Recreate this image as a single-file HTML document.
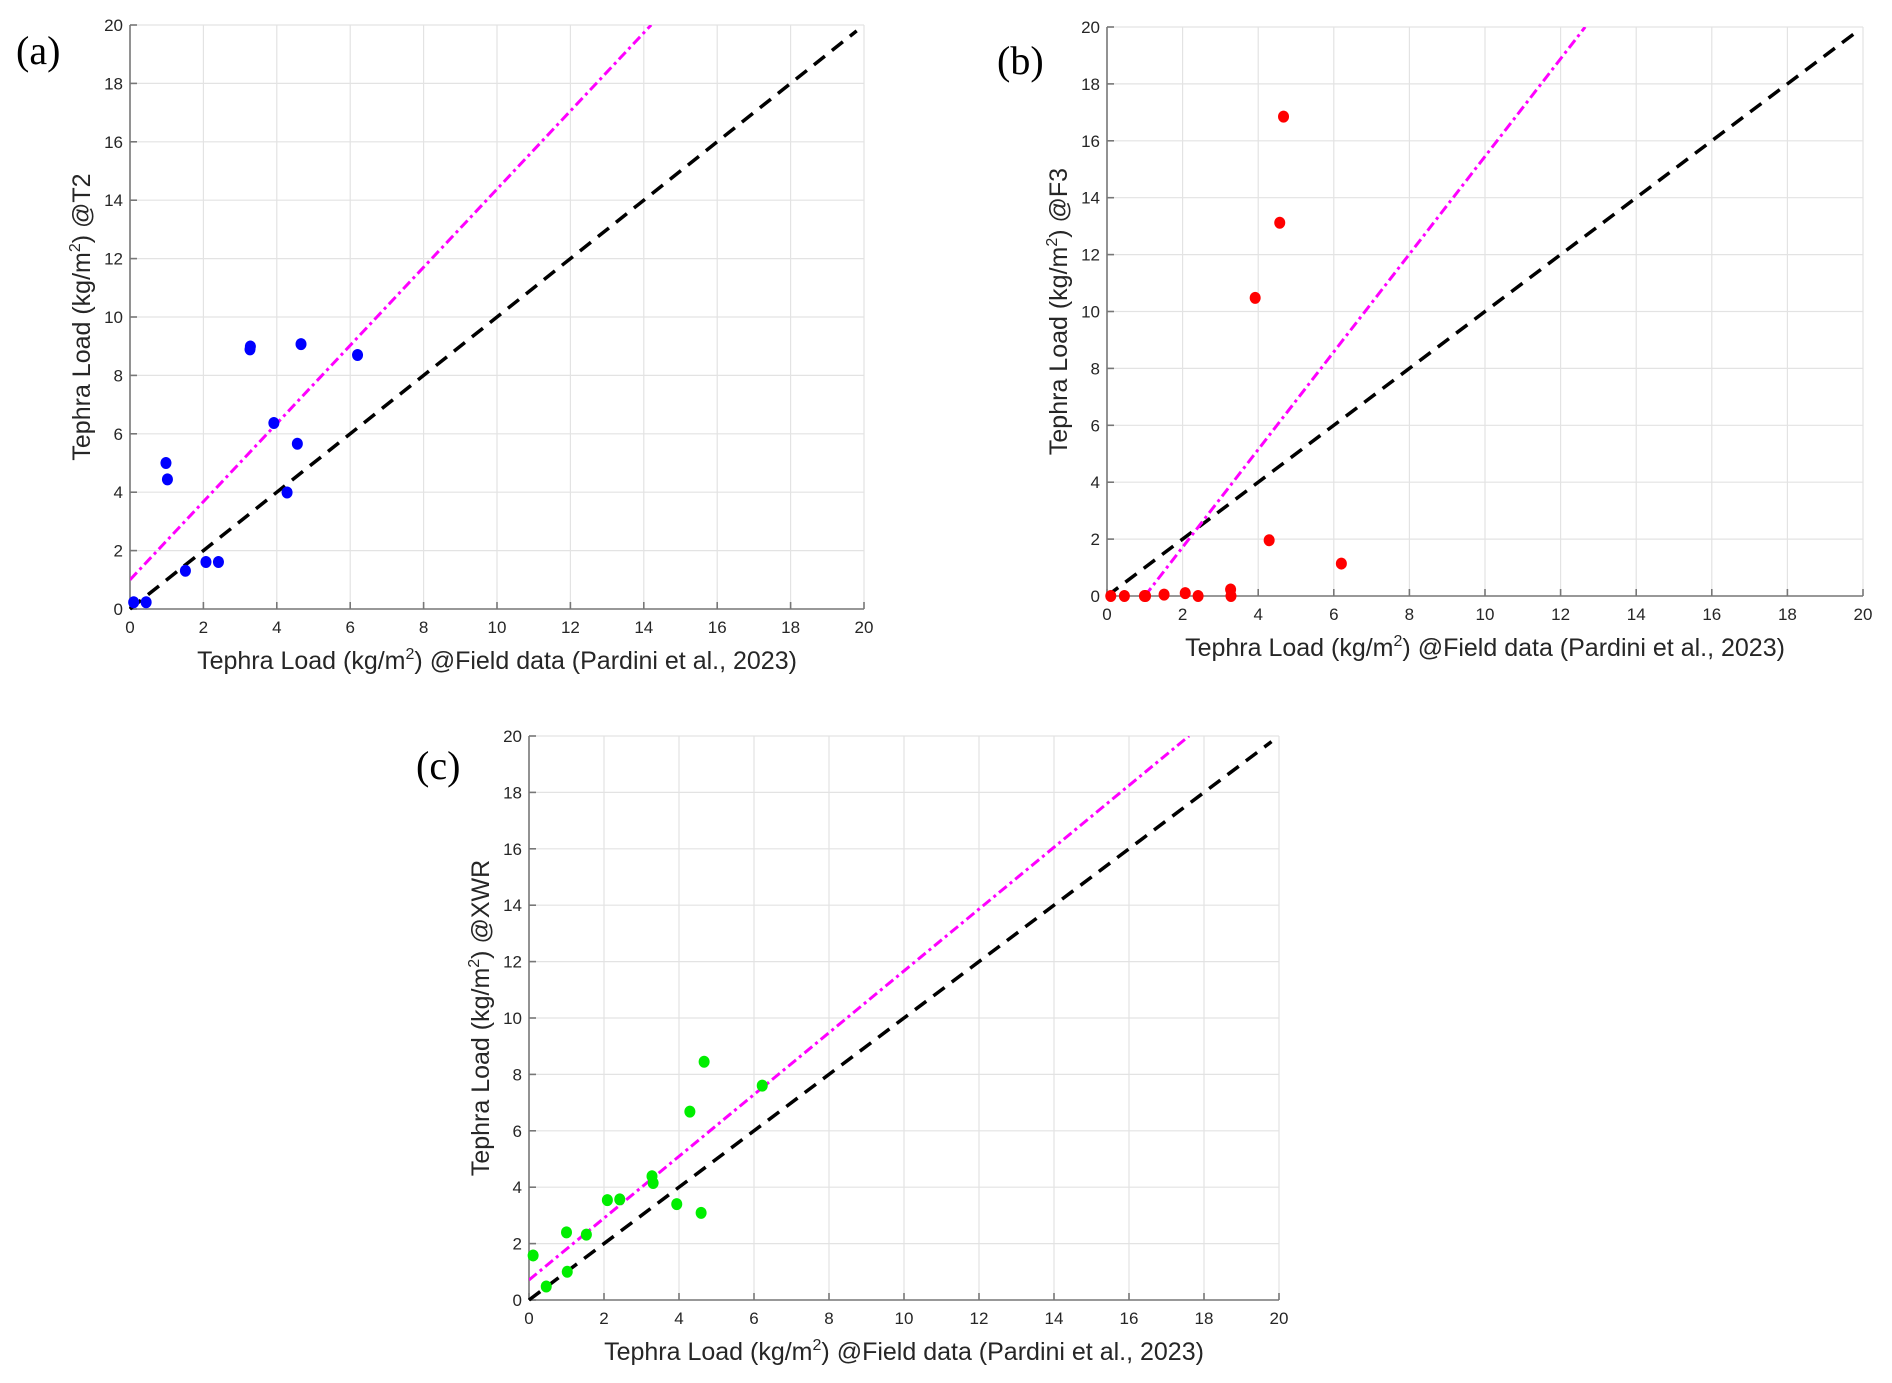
<!DOCTYPE html>
<html><head><meta charset="utf-8"><style>
html,body{margin:0;padding:0;background:#fff;}
svg{display:block;}
text{font-family:"Liberation Sans",sans-serif;fill:#262626;}
</style></head><body>
<svg id="fig" width="1892" height="1383" viewBox="0 0 1892 1383" xmlns="http://www.w3.org/2000/svg"></svg>
<script>
const ticks = [0,2,4,6,8,10,12,14,16,18,20];
const fieldA = [0.1,0.44,0.98,1.02,1.51,2.07,2.41,3.27,3.28,3.92,4.28,4.56,4.66,6.2];
const modelA = [0.23,0.23,5.0,4.44,1.31,1.61,1.61,8.89,8.99,6.37,3.99,5.66,9.07,8.7];
const fieldB = [0.1,0.46,0.99,1.02,1.51,2.07,2.41,3.27,3.28,3.92,4.29,4.57,4.67,6.2];
const modelB = [0,0,0,0,0.05,0.1,0,0.23,0,10.48,1.96,13.12,16.85,1.14];
const fieldC = [0.11,0.46,1.0,1.02,1.53,2.09,2.42,3.28,3.31,3.94,4.29,4.59,4.67,6.22];
const modelC = [1.58,0.48,2.4,1.0,2.32,3.54,3.57,4.39,4.15,3.4,6.68,3.09,8.45,7.6];
const fitA = [1.338,1.0];
const fitB = [1.717,-1.72];
const fitC = [1.096,0.71];
const panelLabels = ["(a)","(b)","(c)"];
const ySuffix = ["@T2","@F3","@XWR"];

const NS="http://www.w3.org/2000/svg";
const svg=document.getElementById('fig');
function mk(tag,attrs,parent){const e=document.createElementNS(NS,tag);for(const k in attrs)e.setAttribute(k,attrs[k]);(parent||svg).appendChild(e);return e;}

function panel(idx,box,xs,ys,fit,color,lab){
  const g=mk('g',{});
  
  
  const sx=v=>box.x0+(box.x1-box.x0)*v/20;
  const sy=v=>box.y0-(box.y0-box.y1)*v/20;
  ticks.forEach(t=>{
    if(t>0){
      const gl=mk('line',{x1:sx(t),x2:sx(t),y1:box.y0,y2:box.y1,stroke:'#e3e3e3','stroke-width':1.2},g);
      
      
      const hl=mk('line',{x1:box.x0,x2:box.x1,y1:sy(t),y2:sy(t),stroke:'#e3e3e3','stroke-width':1.2},g);
      
      
    }
  });
  const xa=mk('line',{x1:box.x0,x2:box.x1,y1:box.y0,y2:box.y0,stroke:'#777','stroke-width':1.6},g);
  
  
  const ya=mk('line',{x1:box.x0,x2:box.x0,y1:box.y0,y2:box.y1,stroke:'#777','stroke-width':1.6},g);
  
  
  ticks.forEach(t=>{
    mk('line',{x1:sx(t),x2:sx(t),y1:box.y0,y2:box.y0-7,stroke:'#777','stroke-width':1.6},g);
    mk('line',{x1:box.x0,x2:box.x0+7,y1:sy(t),y2:sy(t),stroke:'#777','stroke-width':1.6},g);
    const xt=mk('text',{x:sx(t),y:box.y0+24,'text-anchor':'middle','font-size':17},g);
    xt.textContent=t;
    
    
    const yt=mk('text',{x:box.x0-7,y:sy(t)+6,'text-anchor':'end','font-size':17},g);
    yt.textContent=t;
    
    
  });
  const cid='clip'+idx;
  const cp=mk('clipPath',{id:cid},g);
  mk('rect',{x:box.x0,y:box.y1,width:box.x1-box.x0,height:box.y0-box.y1},cp);
  const one=mk('line',{x1:sx(0),y1:sy(0),x2:sx(19.8),y2:sy(19.8),stroke:'#000','stroke-width':3.5,'stroke-dasharray':'14,9'},g);
  
  
  let xa0=0; let ya0=fit[1];
  if(ya0<0){xa0=-fit[1]/fit[0];ya0=0;}
  const xe=(20-fit[1])/fit[0];
  const fl=mk('line',{x1:sx(xa0),y1:sy(ya0),x2:sx(xe),y2:sy(20),stroke:'#ff00ff','stroke-width':3,'stroke-dasharray':'10,4,3,4','clip-path':'url(#'+cid+')'},g);
  
  
  xs.forEach((x,i)=>{
    const c=mk('ellipse',{cx:sx(x),cy:sy(ys[i]),rx:5.5,ry:6,fill:color},g);
    
    
  });
  const xt=mk('text',{x:(box.x0+box.x1)/2,y:box.y0+60,'text-anchor':'middle','font-size':25},g);
  xt.innerHTML='Tephra Load (kg/m<tspan dy="-10" font-size="16">2</tspan><tspan dy="10">) @Field data (Pardini et al., 2023)</tspan>';
  
  
  const tx=box.x0-40, ty=(box.y0+box.y1)/2;
  const yt=mk('text',{x:0,y:0,'text-anchor':'middle','font-size':25,transform:`translate(${tx},${ty}) rotate(-90)`},g);
  yt.innerHTML='Tephra Load (kg/m<tspan dy="-10" font-size="16">2</tspan><tspan dy="10">) '+ySuffix[idx]+'</tspan>';
  
  
  const pl=mk('text',{x:lab[0],y:lab[1],'font-size':40,style:'font-family:"Liberation Serif",serif;fill:#000'},g);
  pl.textContent=panelLabels[idx];
  
  
}
panel(0,{x0:130,x1:864,y0:609,y1:25},fieldA,modelA,fitA,'#0000ff',[16,64]);
panel(1,{x0:1107,x1:1863,y0:596,y1:27},fieldB,modelB,fitB,'#ff0000',[997,74]);
panel(2,{x0:529,x1:1279,y0:1300,y1:736},fieldC,modelC,fitC,'#00ee00',[416,779]);
</script>
</body></html>
